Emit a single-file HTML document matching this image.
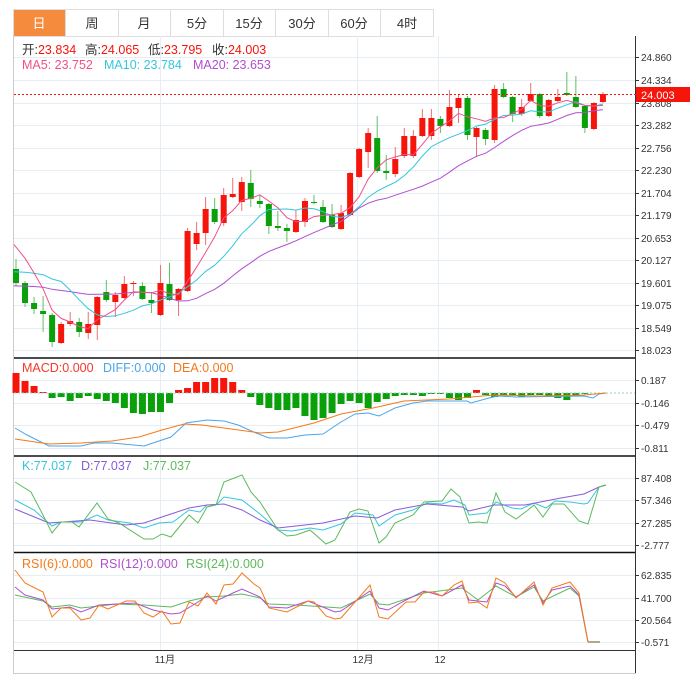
<!DOCTYPE html>
<html><head><meta charset="utf-8"><style>
body{margin:0;background:#fff;width:696px;height:683px;overflow:hidden;font-family:"Liberation Sans","Noto Sans CJK SC",sans-serif;}
svg{position:absolute;left:0;top:0}
</style></head><body>
<svg id="s" width="696" height="683" xmlns="http://www.w3.org/2000/svg" font-family="Liberation Sans, Noto Sans CJK SC, sans-serif">
<rect x="13.5" y="9.5" width="420" height="27" fill="#fff" stroke="#ddd"/>
<rect x="14" y="10" width="51" height="26" fill="#f58b3c"/>
<g stroke="#ddd"><line x1="65.5" y1="10" x2="65.5" y2="36"/><line x1="118.5" y1="10" x2="118.5" y2="36"/><line x1="170.5" y1="10" x2="170.5" y2="36"/><line x1="223.5" y1="10" x2="223.5" y2="36"/><line x1="275.5" y1="10" x2="275.5" y2="36"/><line x1="328.5" y1="10" x2="328.5" y2="36"/><line x1="380.5" y1="10" x2="380.5" y2="36"/></g>
<g font-size="13" text-anchor="middle" fill="#333">
<text x="39" y="28" fill="#fff">日</text><text x="92" y="28">周</text><text x="144" y="28">月</text><text x="197" y="28">5分</text><text x="249" y="28">15分</text><text x="302" y="28">30分</text><text x="354" y="28">60分</text><text x="407" y="28">4时</text></g>
<line x1="13.5" y1="36" x2="13.5" y2="673" stroke="#ccc"/>
<line x1="13" y1="673.5" x2="636" y2="673.5" stroke="#ccc"/>
<g id="grid" stroke="#e6edf3" stroke-width="1"></g>
<g id="plot"></g>
<g stroke="#111" stroke-width="1.5"><line x1="14" y1="358" x2="636" y2="358"/><line x1="14" y1="456" x2="636" y2="456"/><line x1="14" y1="552.5" x2="636" y2="552.5"/></g>
<line x1="14" y1="650.5" x2="636" y2="650.5" stroke="#333"/>
<line x1="635.5" y1="36" x2="635.5" y2="673" stroke="#333"/>
<g font-size="12.5">
<text x="22" y="54" fill="#333">开:<tspan fill="#f5150a">23.834</tspan></text>
<text x="85" y="54" fill="#333">高:<tspan fill="#f5150a">24.065</tspan></text>
<text x="148" y="54" fill="#333">低:<tspan fill="#f5150a">23.795</tspan></text>
<text x="212" y="54" fill="#333">收:<tspan fill="#f5150a">24.003</tspan></text>
<text x="22" y="69" fill="#f0508a">MA5: 23.752</text>
<text x="104" y="69" fill="#35c6dc">MA10: 23.784</text>
<text x="193" y="69" fill="#b04ed0">MA20: 23.653</text>
<text x="22" y="372" fill="#f5382a">MACD:0.000</text>
<text x="103" y="372" fill="#4aa6ee">DIFF:0.000</text>
<text x="173" y="372" fill="#f57a1a">DEA:0.000</text>
<text x="22" y="470" fill="#35c6dc">K:77.037</text>
<text x="81" y="470" fill="#8a5ad8">D:77.037</text>
<text x="143" y="470" fill="#5cba5c">J:77.037</text>
<text x="22" y="568" fill="#f57a1a">RSI(6):0.000</text>
<text x="100" y="568" fill="#b04ed0">RSI(12):0.000</text>
<text x="186" y="568" fill="#5cba5c">RSI(24):0.000</text>
</g>
<g font-size="10" fill="#333" id="ax"></g>
<g font-size="10" fill="#333" text-anchor="middle"><text x="165" y="663">11月</text><text x="363" y="663">12月</text><text x="440" y="663">12</text></g>
<line x1="14" y1="94.5" x2="636" y2="94.5" stroke="#f5150a" stroke-dasharray="2,2"/>
<rect x="636" y="87" width="54" height="15" fill="#f5150a"/>
<text x="641" y="99" font-size="11" fill="#fff">24.003</text>
</svg>
<script>
var NS="http://www.w3.org/2000/svg",P=document.getElementById('plot'),G=document.getElementById('grid'),A=document.getElementById('ax');
function el(t,a,p){var e=document.createElementNS(NS,t);for(var k in a)e.setAttribute(k,a[k]);(p||P).appendChild(e);return e;}
function X(i){return 16+i*9.03;}
var ticks=[[57,"24.860"],[80,"24.334"],[103,"23.808"],[125,"23.282"],[148,"22.756"],[170,"22.230"],[193,"21.704"],[215,"21.179"],[238,"20.653"],[260,"20.127"],[283,"19.601"],[305,"19.075"],[328,"18.549"],[350,"18.023"],
[380,"0.187"],[403,"-0.146"],[425,"-0.479"],[448,"-0.811"],[478,"87.408"],[500,"57.346"],[523,"27.285"],[545,"-2.777"],[575,"62.835"],[598,"41.700"],[620,"20.564"],[642,"-0.571"]];
ticks.forEach(function(t){el('line',{x1:14,x2:635,y1:t[0]+.5,y2:t[0]+.5},G);el('line',{x1:635,x2:639,y1:t[0]+.5,y2:t[0]+.5,stroke:'#333'},A);var tx=el('text',{x:641,y:t[0]+4},A);tx.textContent=t[1];});
[160,357,438].forEach(function(x){el('line',{x1:x+.5,x2:x+.5,y1:36,y2:650},G);});
var C=[["g",269,283,259,286],["g",283,303,281,307],["g",303,309,297,314],["g",311,314,296,332],["g",315,342,313,347],["r",324,343,322,344],["r",321,324,312,326],["g",322,332,318,337],["r",324,333,312,339],["r",297,325,296,340],["g",292,300,280,302],["r",295,302,292,317],["r",284,298,276,299],["r",283,284,281,296],["g",286,299,282,300],["g",300,303,292,313],["r",283,315,265,316],["g",284,300,263,301],["r",289,300,288,316],["r",231,291,228,292],["r",233,244,222,250],["r",209,233,197,245],["g",209,222,198,224],["r",195,223,188,226],["r",194,197,178,198],["r",182,202,177,211],["g",183,199,170,207],["g",201,204,195,208],["g",204,226,203,234],["g",226,228,211,231],["g",228,231,224,242],["r",220,232,210,233],["r",201,222,198,227],["g",202,203,195,204],["g",207,222,200,223],["g",215,227,204,228],["r",213,229,205,230],["r",173,215,172,216],["r",149,177,148,178],["r",133,152,128,168],["g",138,171,116,173],["g",171,173,155,180],["r",159,174,147,177],["r",136,156,128,158],["r",136,156,130,158],["r",118,136,109,137],["r",118,136,109,140],["g",119,126,116,133],["r",107,126,90,127],["r",98,108,94,123],["g",98,135,96,140],["r",128,137,127,157],["g",130,139,128,145],["r",89,140,85,143],["g",89,97,83,98],["g",97,114,96,122],["r",107,114,99,116],["r",94,101,83,102],["g",94,116,93,118],["r",100,116,99,117],["r",97,101,89,102],["g",93,95,72,96],["g",97,107,76,108],["g",106,128,105,133],["r",103,129,102,130],["r",94,102,92,103]];
C.forEach(function(c,i){var col=c[0]=="r"?"#f5150a":"#0aa00a",x=X(i);el('line',{x1:x,x2:x,y1:c[3],y2:c[4],stroke:c[0]=="r"?"#f07070":"#60c060"});el('rect',{x:x-3,y:c[1],width:6,height:Math.max(1,c[2]-c[1]),fill:col});});
var cl=[];for(var k=0;k<10;k++)cl.push(300);for(k=0;k<5;k++)cl.push(299);for(k=0;k<4;k++)cl.push(235);
C.forEach(function(c){cl.push(c[0]=="r"?c[1]:c[2]);});
function ma(n,col){var pts=[];for(var i=0;i<C.length;i++){var j=i+19,s=0;for(var m=0;m<n;m++)s+=cl[j-m];pts.push(X(i).toFixed(1)+","+(s/n).toFixed(1));}pts[0]="14,"+pts[0].split(",")[1];el('polyline',{points:pts.join(" "),fill:"none",stroke:col,"stroke-width":1});}
ma(20,"#b04ed0");ma(10,"#35c6dc");ma(5,"#f0508a");
var M=[373,381,386,392,398,397,401,398,396,399,401,403,408,413,414,412,412,403,390,388,382,382,378,378,382,390,397,405,408,410,410,408,416,420,418,413,404,401,403,408,402,399,396,395,395,396,394,394,398,400,398,390,395,397,395,395,397,395,395,397,398,400,396,394,393.5,393.5];
var Z=393;M.forEach(function(v,i){var x=X(i);if(v<Z)el('rect',{x:x-3.5,y:v,width:7,height:Z-v,fill:"#f5150a"});else if(v>Z+0.5)el('rect',{x:x-3.5,y:Z,width:7,height:v-Z,fill:"#0aa00a"});});
el('line',{x1:14,x2:635,y1:393,y2:393,stroke:"#9cc",'stroke-dasharray':"2,2"});
function pl(s,col){el('polyline',{points:s,fill:"none",stroke:col,"stroke-width":1});}
pl("15,428 27,435 49,446 81,446 94,443 112,443 144,446 171,437 186,423 207,420 224,421 238,425 256,433 269,438 287,438 305,435 323,434 341,422 355,414 368,413 379,416 395,408 413,403 427,401 467,401 471,403 489,398 498,396 516,397 584,396 593,398 599,394 606,393","#4aa6ee");
pl("15,439 49,444 81,443 112,441 139,437 162,430 184,424 202,425 224,428 260,433 278,432 314,423 341,414 373,408 404,401 449,399 494,395 539,396 584,395 606,393","#f57a1a");
pl("15,500 34,510 52,526 61,522 81,522 97,515 108,520 130,523 144,528 159,523 173,522 189,510 200,512 207,505 216,505 224,497 242,500 260,514 278,530 292,531 310,528 323,530 341,524 355,513 373,515 379,526 395,515 413,510 427,503 442,504 454,500 465,505 469,515 487,513 496,502 512,508 521,509 534,503 546,508 555,501 570,502 584,504 588,503 599,487 606,485","#35c6dc");
pl("15,509 49,523 90,520 126,525 144,523 162,517 189,508 207,505 224,504 242,510 260,520 278,528 323,523 355,516 377,518 395,510 427,504 462,507 469,511 494,505 525,505 561,498 584,494 599,487 606,485","#8a5ad8");
pl("15,482 31,492 43,515 52,533 61,522 72,522 79,527 97,503 108,519 119,523 144,539 153,539 162,534 171,537 189,515 198,523 207,507 216,505 224,482 242,475 251,492 260,502 278,530 287,536 296,535 310,530 326,544 335,540 350,512 359,509 368,511 379,543 386,537 395,523 413,515 424,502 442,501 451,489 460,497 469,523 478,522 487,523 496,493 505,512 516,519 528,510 534,505 543,517 552,504 564,504 579,521 588,524 599,487 606,485","#5cba5c");
pl("15,595 43,601 52,607 70,605 81,608 117,604 144,605 171,607 189,601 207,597 224,596 242,594 260,598 269,604 296,605 341,608 370,594 379,604 388,605 424,593 462,588 478,600 496,586 516,597 534,587 543,601 570,588 579,596 588,642","#5cba5c");
pl("15,587 25,595 43,600 52,609 70,607 81,612 99,605 117,604 135,603 153,610 171,614 180,613 198,602 207,596 216,601 233,593 242,589 260,597 269,607 287,608 308,601 335,612 341,611 370,591 379,608 388,610 406,600 424,591 442,596 462,585 469,600 487,602 496,583 505,586 516,597 534,585 543,603 552,590 570,586 579,595 588,642","#b04ed0");
pl("15,570 25,583 43,592 52,617 61,608 70,608 81,620 90,618 99,605 108,609 117,605 126,601 135,601 144,613 153,617 162,611 171,624 180,623 189,602 198,606 207,593 216,604 224,585 233,584 242,573 254,584 260,588 269,608 287,612 308,601 314,602 326,616 335,619 341,618 370,585 379,617 388,619 406,602 415,602 424,592 433,592 442,596 454,585 462,581 469,603 478,602 487,608 496,578 505,583 516,598 534,582 543,605 552,588 570,582 579,593 588,642","#f57a1a");
el('line',{x1:588,x2:600,y1:642,y2:642,stroke:"#b0a890","stroke-width":2});
</script>
</body></html>
